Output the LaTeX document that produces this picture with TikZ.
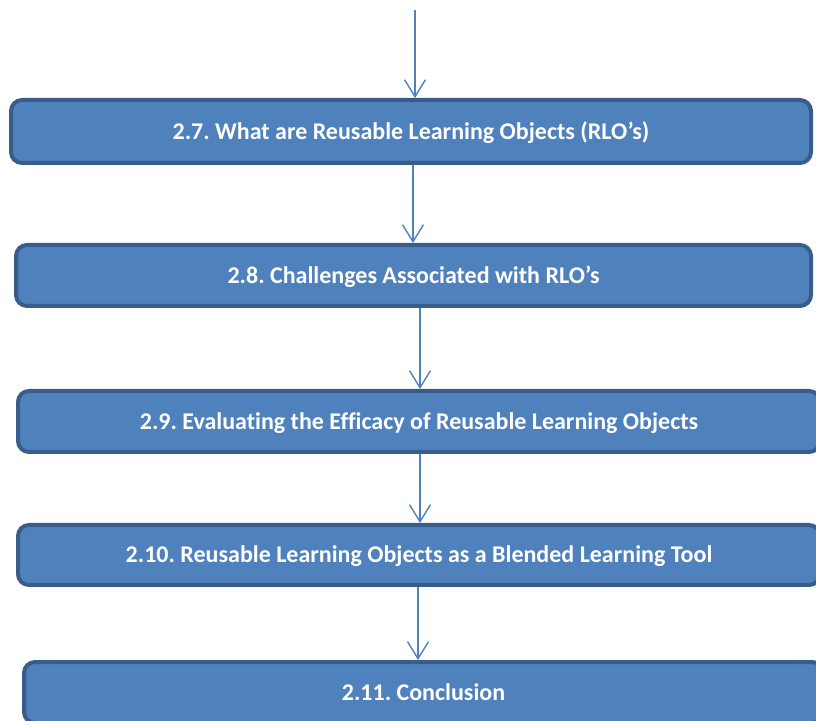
\documentclass[tikz,border=0pt]{standalone}
\usepackage{fontspec}
\setmainfont[Ligatures=NoCommon]{Carlito}
\usetikzlibrary{arrows.meta}
\definecolor{boxfill}{HTML}{4F81BD}
\definecolor{boxline}{HTML}{385D8A}
\frenchspacing
\begin{document}
\begin{tikzpicture}[x=1pt,y=1pt,
  stagebox/.style={draw=boxline, fill=boxfill, line width=4pt, rounded corners=11pt,
    text=white, font=\bfseries\fontsize{24}{28}\selectfont, inner sep=0pt,
    text height=21pt, text depth=5pt},
  flow/.style={draw=boxfill, line width=1.4pt,
    -{Straight Barb[length=17pt,width=21pt,line width=1.4pt]}}]
\useasboundingbox (0,0) rectangle (816,720);
\clip (0,0) rectangle (816,720);
\node[stagebox, minimum width=800pt, minimum height=63pt] (b1) at (411,588.5)
  {2.7. What are Reusable Learning Objects (RLO’s)};
\node[stagebox, minimum width=795pt, minimum height=61pt] (b2) at (413.5,444.5)
  {2.8. Challenges Associated with RLO’s};
\node[stagebox, minimum width=802pt, minimum height=61pt] (b3) at (419,298.5)
  {2.9. Evaluating the Efficacy of Reusable Learning Objects};
\node[stagebox, minimum width=802pt, minimum height=60pt] (b4) at (419,165)
  {2.10. Reusable Learning Objects as a Blended Learning Tool};
\node[stagebox, minimum width=799pt, minimum height=61pt] (b5) at (423.5,27.5)
  {2.11. Conclusion};
\coordinate (start) at (415,710);
\draw[flow] (start) -- (start |- b1.north);
\draw[flow] ([xshift=2pt]b1.south) -- ([xshift=2pt]b1.south |- b2.north);
\draw[flow] ([xshift=6.5pt]b2.south) -- ([xshift=6.5pt]b2.south |- b3.north);
\draw[flow] ([xshift=1pt]b3.south) -- ([xshift=1pt]b3.south |- b4.north);
\draw[flow] ([xshift=-1pt]b4.south) -- ([xshift=-1pt]b4.south |- b5.north);
\end{tikzpicture}
\end{document}
